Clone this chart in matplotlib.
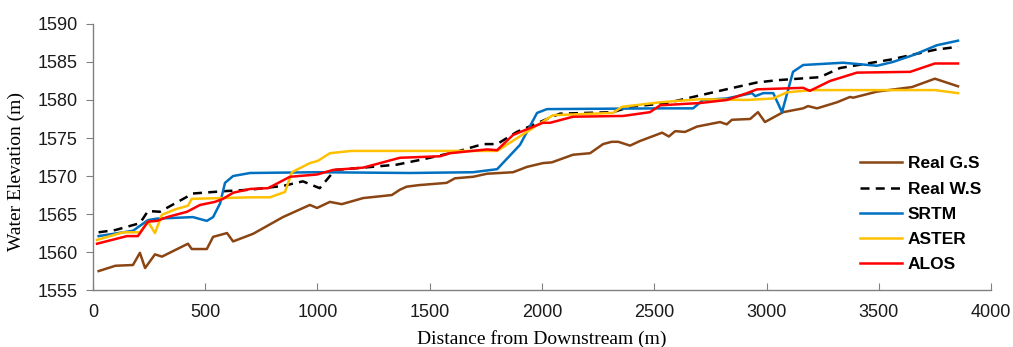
import matplotlib
matplotlib.use("Agg")
import matplotlib.pyplot as plt

# distance (m) / elevation (m)
gs_x = [25, 100, 178, 209, 232, 276, 307, 423, 440, 507, 535, 597, 624, 713, 846, 966, 998, 1055, 1108, 1203,
        1331, 1367, 1397, 1450, 1575, 1612, 1693, 1755, 1871, 1933, 2004, 2044, 2138, 2214, 2272, 2310, 2340, 2392,
        2436, 2535, 2565, 2593, 2637, 2690, 2793, 2823, 2846, 2927, 2962, 2993, 3074, 3163, 3185, 3225, 3314,
        3372, 3386, 3492, 3648, 3750, 3853]
gs_y = [1557.5, 1558.2, 1558.3, 1559.9, 1557.9, 1559.7, 1559.4, 1561.1, 1560.4, 1560.4, 1562.0, 1562.5, 1561.4,
        1562.4, 1564.6, 1566.2, 1565.8, 1566.6, 1566.3, 1567.1, 1567.5, 1568.2, 1568.6, 1568.8, 1569.1, 1569.7,
        1569.9, 1570.3, 1570.5, 1571.2, 1571.7, 1571.8, 1572.8, 1573.0, 1574.2, 1574.5, 1574.5, 1574.0, 1574.6,
        1575.7, 1575.2, 1575.9, 1575.8, 1576.5, 1577.1, 1576.8, 1577.4, 1577.5, 1578.4, 1577.1, 1578.4, 1578.9,
        1579.2, 1578.9, 1579.7, 1580.4, 1580.3, 1581.1, 1581.7, 1582.8, 1581.8]

ws_x = [25, 100, 209, 245, 298, 445, 579, 700, 846, 935, 1010, 1078, 1203, 1354, 1470, 1620, 1737, 1800, 1888,
        2022, 2080, 2316, 2392, 2557, 2673, 2806, 2957, 3047, 3238, 3327, 3550, 3750, 3853]
ws_y = [1562.6, 1562.9, 1563.8, 1565.4, 1565.3, 1567.7, 1568.0, 1568.2, 1568.7, 1569.3, 1568.4, 1570.8, 1571.1,
        1571.5, 1572.2, 1573.2, 1574.2, 1574.2, 1575.8, 1577.5, 1578.2, 1578.4, 1579.1, 1579.6, 1580.4, 1581.3,
        1582.3, 1582.6, 1583.0, 1584.2, 1585.3, 1586.6, 1587.0]

srtm_x = [25, 178, 245, 285, 445, 507, 535, 566, 588, 624, 700, 1000, 1412, 1693, 1800, 1902, 1978, 2022, 2539,
          2673, 2717, 2823, 2935, 2950, 2985, 3030, 3069, 3118, 3163, 3341, 3492, 3563, 3653, 3759, 3853]
srtm_y = [1562.1, 1562.8, 1564.2, 1564.4, 1564.6, 1564.1, 1564.6, 1566.4, 1569.1, 1570.0, 1570.4, 1570.5, 1570.4,
          1570.5, 1570.9, 1574.1, 1578.3, 1578.8, 1578.9, 1578.9, 1580.0, 1580.2, 1580.9, 1580.5, 1580.9, 1580.9,
          1578.4, 1583.7, 1584.6, 1584.9, 1584.5, 1585.0, 1585.9, 1587.2, 1587.8]

aster_x = [18, 134, 209, 245, 276, 307, 365, 423, 440, 700, 788, 855, 886, 966, 1002, 1055, 1150, 1800, 2022,
           2049, 2316, 2356, 2526, 2704, 2913, 3030, 3090, 3200, 3750, 3853]
aster_y = [1561.6, 1562.6, 1562.6, 1564.0, 1562.5, 1564.9, 1565.6, 1566.1, 1567.0, 1567.2, 1567.2, 1567.9, 1570.5,
           1571.7, 1572.0, 1573.0, 1573.3, 1573.3, 1577.5, 1578.0, 1578.3, 1579.1, 1579.7, 1580.1, 1580.0, 1580.2,
           1581.0, 1581.3, 1581.3, 1580.9]

alos_x = [18, 151, 200, 245, 285, 330, 419, 477, 543, 579, 624, 700, 780, 877, 998, 1069, 1203, 1367, 1546, 1590,
          1755, 1800, 1871, 2004, 2036, 2138, 2361, 2481, 2526, 2704, 2823, 2913, 2958, 3163, 3193, 3283, 3403,
          3640, 3750, 3853]
alos_y = [1561.1, 1562.1, 1562.1, 1564.0, 1564.1, 1564.6, 1565.3, 1566.2, 1566.6, 1567.0, 1567.8, 1568.3, 1568.4,
          1569.9, 1570.2, 1570.8, 1571.1, 1572.4, 1572.6, 1573.0, 1573.5, 1573.4, 1575.4, 1577.0, 1577.0, 1577.8,
          1577.9, 1578.4, 1579.3, 1579.6, 1580.0, 1580.9, 1581.4, 1581.6, 1581.2, 1582.5, 1583.6, 1583.7, 1584.8,
          1584.8]

fig = plt.figure(figsize=(10.13, 3.47), dpi=100)
ax = fig.add_axes([0.0918, 0.164, 0.8865, 0.767])

lw = 1.8
ax.plot(gs_x, gs_y, color='#8B4513', lw=lw, label='Real G.S')
ax.plot(ws_x, ws_y, color='black', lw=lw, dashes=(3.6, 2.5), label='Real W.S')
ax.plot(srtm_x, srtm_y, color='#0070C0', lw=lw, label='SRTM')
ax.plot(aster_x, aster_y, color='#FFC000', lw=lw, label='ASTER')
ax.plot(alos_x, alos_y, color='#FF0000', lw=lw, label='ALOS')

ax.set_xlim(0, 4000)
ax.set_ylim(1555, 1590)
ax.set_xticks(range(0, 4001, 500))
ax.set_yticks(range(1555, 1591, 5))

for s in ['top', 'right']:
    ax.spines[s].set_visible(False)
for s in ['left', 'bottom']:
    ax.spines[s].set_color('#808080')
    ax.spines[s].set_linewidth(1.0)

ax.tick_params(axis='x', direction='in', length=5, color='#808080', pad=10,
               labelsize=13, labelcolor='#1a1a1a')
ax.tick_params(axis='y', direction='out', length=5, color='#808080', pad=6,
               labelsize=13, labelcolor='#1a1a1a')
for lab in ax.get_xticklabels() + ax.get_yticklabels():
    lab.set_family('Liberation Sans')

ax.set_xlabel('Distance from Downstream (m)', family='Liberation Serif', fontsize=14)
ax.set_ylabel('Water Elevation (m)', family='Liberation Serif', fontsize=14)
ax.xaxis.set_label_coords(0.5, -0.152)
ax.yaxis.set_label_coords(-0.076, 0.447)

ax.legend(loc='center left', bbox_to_anchor=(0.854, 0.285), frameon=False,
          prop={'family': 'Liberation Sans', 'weight': 'bold', 'size': 12.5},
          handlelength=2.4, handletextpad=0.35, labelspacing=0.58,
          borderpad=0, borderaxespad=0)

fig.savefig('out.png', dpi=100)
